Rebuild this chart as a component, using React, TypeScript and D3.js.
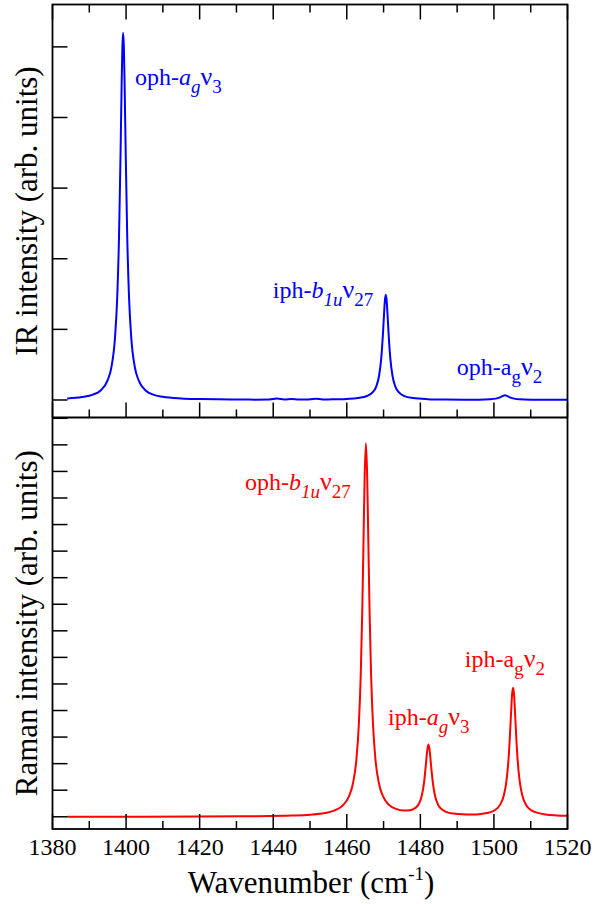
import React from "react";
import * as d3 from "d3";

// ---- data ----
const X_TICKS = [1380, 1400, 1420, 1440, 1460, 1480, 1500, 1520];
const X_MINOR = [1390, 1410, 1430, 1450, 1470, 1490, 1510];
const IR_TICKS = [0, 1, 2, 3, 4, 5];
const RAMAN_TICKS = [0, 1, 2, 3, 4, 5, 6, 7, 8, 9, 10, 11, 12, 13, 14, 15];

const IR_WAVENUMBER = [1384,1388,1391,1393,1395,1396,1397,1397.6,1398.1,1398.5,1398.8,1399.0,1399.2,1399.4,1399.6,1399.9,1400.3,1400.8,1401.4,1402.4,1403.4,1405.4,1407.4,1410,1415,1420,1425,1430,1435,1439,1441,1443,1445,1447,1449,1451.5,1453.5,1456,1460,1463,1465.5,1467,1468,1468.8,1469.4,1469.8,1470.1,1470.35,1470.6,1470.85,1471.1,1471.4,1471.8,1472.4,1473.2,1474.2,1475.7,1478,1482,1487,1492,1496,1499,1500.5,1501.5,1502.3,1503,1503.7,1504.5,1505.5,1507,1510,1515,1520];
const IR_INTENSITY = [0.022,0.041,0.076,0.132,0.28,0.46,0.89,1.46,2.35,3.49,4.48,5.0,5.2,5.0,4.48,3.49,2.35,1.46,0.89,0.46,0.28,0.132,0.076,0.045,0.021,0.013,0.009,0.007,0.005,0.007,0.020,0.007,0.013,0.006,0.006,0.018,0.008,0.009,0.015,0.027,0.056,0.107,0.19,0.35,0.61,0.91,1.19,1.40,1.49,1.40,1.19,0.91,0.61,0.35,0.19,0.107,0.055,0.028,0.012,0.006,0.0045,0.005,0.010,0.019,0.034,0.054,0.066,0.054,0.034,0.019,0.009,0.004,0.002,0.002];

const RAMAN_WAVENUMBER = [1384,1400,1420,1435,1445,1450,1454,1457,1459,1460.5,1461.7,1462.6,1463.3,1463.8,1464.2,1464.55,1464.85,1465.2,1465.55,1465.85,1466.2,1466.6,1467.1,1467.8,1468.7,1469.9,1471.4,1473.4,1475.5,1477.2,1478.5,1479.6,1480.4,1481.0,1481.5,1481.9,1482.2,1482.5,1482.9,1483.4,1484.0,1484.8,1485.9,1487.2,1489,1491.5,1494,1496.5,1498.5,1500.3,1501.7,1502.7,1503.4,1503.9,1504.3,1504.65,1504.95,1505.2,1505.45,1505.75,1506.1,1506.5,1507.0,1507.7,1508.7,1510.1,1511.9,1514,1517,1520];
const RAMAN_INTENSITY = [0.003,0.005,0.010,0.021,0.046,0.078,0.140,0.256,0.44,0.74,1.27,2.14,3.54,5.37,7.70,10.42,12.77,14.06,12.78,10.43,7.70,5.38,3.55,2.15,1.28,0.755,0.46,0.295,0.234,0.247,0.318,0.49,0.80,1.29,1.96,2.53,2.72,2.53,1.95,1.28,0.785,0.46,0.27,0.175,0.12,0.092,0.089,0.109,0.154,0.257,0.458,0.81,1.34,2.04,2.92,3.89,4.63,4.86,4.63,3.89,2.92,2.04,1.34,0.81,0.455,0.25,0.148,0.085,0.051,0.035];

// label parts: [text, italic, subscript]
type Part = [string, boolean, boolean];
const IR_LABELS: { x: number; y: number; parts: Part[] }[] = [
  { x: 1402.4, y: 4.46, parts: [["oph-", false, false], ["a", true, false], ["g", true, true], ["ν", false, false], ["3", false, true]] },
  { x: 1439.9, y: 1.44, parts: [["iph-", false, false], ["b", true, false], ["1u", true, true], ["ν", false, false], ["27", false, true]] },
  { x: 1489.9, y: 0.354, parts: [["oph-a", false, false], ["g", false, true], ["ν", false, false], ["2", false, true]] },
];
const RAMAN_LABELS: { x: number; y: number; parts: Part[] }[] = [
  { x: 1432.3, y: 12.3, parts: [["oph-", false, false], ["b", true, false], ["1u", true, true], ["ν", false, false], ["27", false, true]] },
  { x: 1471.2, y: 3.44, parts: [["iph-", false, false], ["a", true, false], ["g", true, true], ["ν", false, false], ["3", false, true]] },
  { x: 1492.1, y: 5.63, parts: [["iph-a", false, false], ["g", false, true], ["ν", false, false], ["2", false, true]] },
];

const FONT = "'Liberation Serif', 'Times New Roman', serif";
const LEFT = 52.5, RIGHT = 567.5, TOP = 4.5, MID = 417.5, BOTTOM = 829;

function Label({ x, y, parts, color }: { x: number; y: number; parts: Part[]; color: string }) {
  let prevSub = false;
  return (
    <text x={x} y={y} fill={color} fontFamily={FONT} fontSize={24}>
      {parts.map(([t, it, sub], i) => {
        let dy = 0;
        if (sub && !prevSub) dy = 8;
        if (!sub && prevSub) dy = -8;
        prevSub = sub;
        const size = sub ? 19 : t === "ν" ? 26 : 24;
        return (
          <tspan key={i} dy={dy} fontStyle={it ? "italic" : "normal"} fontSize={size}>
            {t}
          </tspan>
        );
      })}
    </text>
  );
}

export default function App() {
  const x = d3.scaleLinear().domain([1380, 1520]).range([LEFT, RIGHT]);
  const yIR = d3.scaleLinear().domain([-0.248, 5.6]).range([MID, TOP]);
  const yRaman = d3.scaleLinear().domain([-0.46, 15.03]).range([BOTTOM, MID]);

  const irData = IR_WAVENUMBER.map((w, i) => [w, IR_INTENSITY[i]] as [number, number]);
  const ramanData = RAMAN_WAVENUMBER.map((w, i) => [w, RAMAN_INTENSITY[i]] as [number, number]);

  const irLine = d3.line<[number, number]>().x((d) => x(d[0])).y((d) => yIR(d[1])).curve(d3.curveMonotoneX);
  const ramanLine = d3.line<[number, number]>().x((d) => x(d[0])).y((d) => yRaman(d[1])).curve(d3.curveMonotoneX);

  const tickStroke = { stroke: "#000", strokeWidth: 1.5 };

  return (
    <svg width={615} height={904} style={{ position: "absolute", left: 0, top: 0, background: "#fff" }}>
      <defs>
        <clipPath id="clipTop"><rect x={LEFT} y={TOP} width={RIGHT - LEFT} height={MID - TOP} /></clipPath>
        <clipPath id="clipBot"><rect x={LEFT} y={MID} width={RIGHT - LEFT} height={BOTTOM - MID} /></clipPath>
      </defs>

      {/* curves */}
      <path d={irLine(irData) || ""} fill="none" stroke="#0000ff" strokeWidth={2} clipPath="url(#clipTop)" />
      <path d={ramanLine(ramanData) || ""} fill="none" stroke="#ff0000" strokeWidth={2} clipPath="url(#clipBot)" />

      {/* x ticks: top border (down), separator (up), bottom axis (up) */}
      {X_TICKS.map((t) => (
        <g key={"tt" + t}>
          <line x1={x(t)} x2={x(t)} y1={TOP} y2={TOP + 15} {...tickStroke} />
          <line x1={x(t)} x2={x(t)} y1={MID} y2={MID - 15} {...tickStroke} />
          <line x1={x(t)} x2={x(t)} y1={BOTTOM} y2={BOTTOM - 15} {...tickStroke} />
        </g>
      ))}
      {X_MINOR.map((t) => (
        <g key={"tm" + t}>
          <line x1={x(t)} x2={x(t)} y1={TOP} y2={TOP + 8} {...tickStroke} />
          <line x1={x(t)} x2={x(t)} y1={MID} y2={MID - 8} {...tickStroke} />
          <line x1={x(t)} x2={x(t)} y1={BOTTOM} y2={BOTTOM - 8} {...tickStroke} />
        </g>
      ))}
      {IR_TICKS.map((t) => (
        <line key={"iy" + t} x1={LEFT} x2={LEFT + 15} y1={yIR(t)} y2={yIR(t)} {...tickStroke} />
      ))}
      {RAMAN_TICKS.map((t) => (
        <line key={"ry" + t} x1={LEFT} x2={LEFT + 15} y1={yRaman(t)} y2={yRaman(t)} {...tickStroke} />
      ))}

      {/* frame */}
      <rect x={LEFT} y={TOP} width={RIGHT - LEFT} height={BOTTOM - TOP} fill="none" stroke="#000" strokeWidth={1.8} />
      <line x1={LEFT} x2={RIGHT} y1={MID} y2={MID} stroke="#000" strokeWidth={1.8} />

      {/* x tick labels */}
      {X_TICKS.map((t) => (
        <text key={"xl" + t} x={x(t)} y={855} textAnchor="middle" fontFamily={FONT} fontSize={24} fill="#000">
          {t}
        </text>
      ))}

      {/* axis titles */}
      <text x={311} y={893} textAnchor="middle" fontFamily={FONT} fontSize={31} fill="#000">
        Wavenumber (cm
        <tspan fontSize={19} dy={-13}>-1</tspan>
        <tspan dy={13}>)</tspan>
      </text>
      <text transform={`translate(36.5,${(TOP + MID) / 2}) rotate(-90)`} textAnchor="middle" fontFamily={FONT} fontSize={31} fill="#000">
        IR intensity (arb. units)
      </text>
      <text transform={`translate(36.5,${(MID + BOTTOM) / 2}) rotate(-90)`} textAnchor="middle" fontFamily={FONT} fontSize={31} fill="#000">
        Raman intensity (arb. units)
      </text>

      {/* peak labels */}
      {IR_LABELS.map((l, i) => (
        <Label key={"il" + i} x={x(l.x)} y={yIR(l.y)} parts={l.parts} color="#0000ff" />
      ))}
      {RAMAN_LABELS.map((l, i) => (
        <Label key={"rl" + i} x={x(l.x)} y={yRaman(l.y)} parts={l.parts} color="#ff0000" />
      ))}
    </svg>
  );
}
